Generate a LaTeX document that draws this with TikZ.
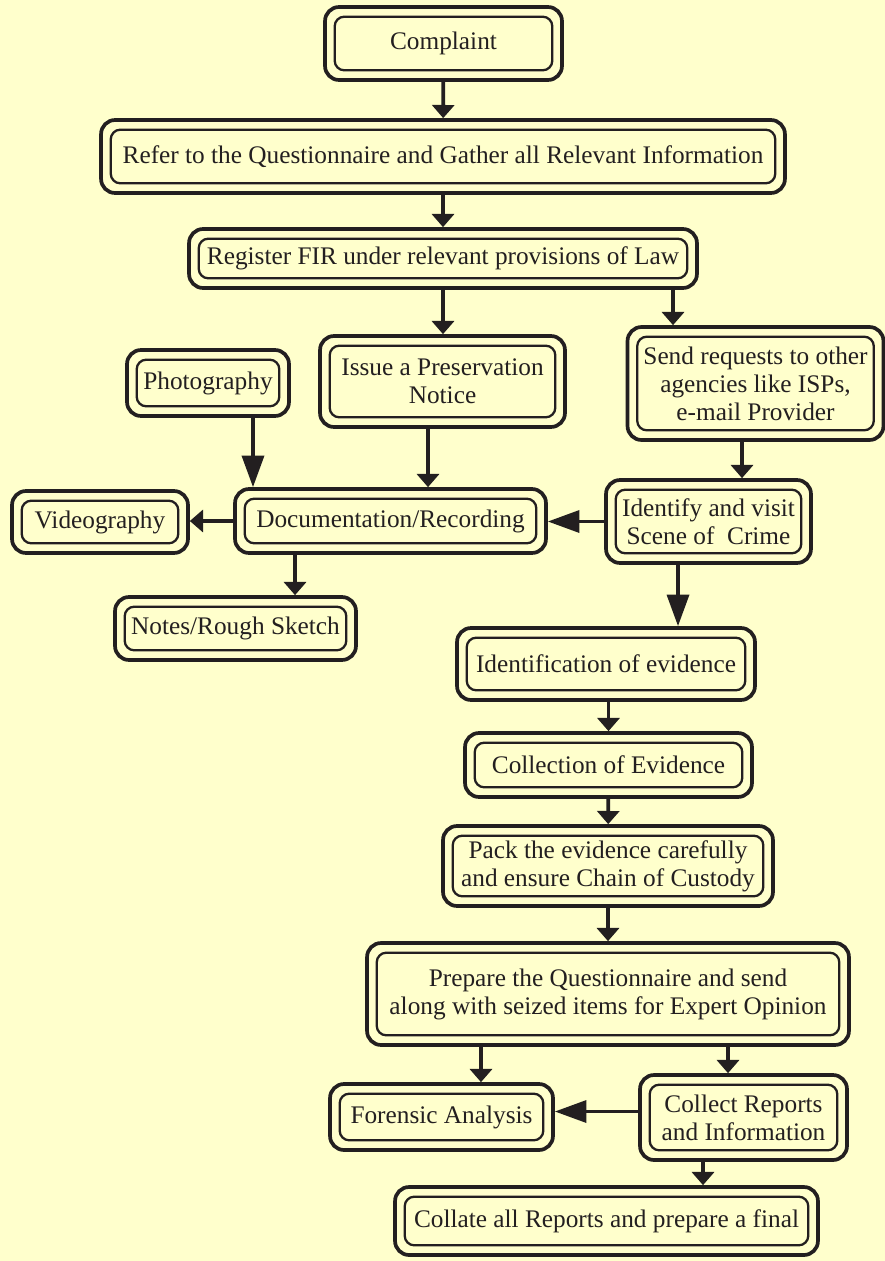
\documentclass[tikz,border=0pt]{standalone}
\usepackage{fontspec}
\setmainfont{Liberation Serif}
\usepackage{tikz}
\usetikzlibrary{arrows.meta,positioning}
\usepackage{xcolor}
\definecolor{cfyellow}{RGB}{255,255,204}
\definecolor{cfdark}{RGB}{35,31,32}
\tikzstyle{arrow} = [line width=2.1pt,-{Triangle[width=12.5pt,length=7.5pt]},color=cfdark]
\tikzstyle{bigarrow} = [line width=2.1pt,-{Triangle[width=12.5pt,length=18pt]},color=cfdark]
\tikzstyle{stage} = [rectangle, rounded corners=8pt, draw=cfdark, fill=cfyellow, line width=2.1pt, inner sep=0pt, align=center, text=cfdark,
  font=\fontsize{14.4}{16}\selectfont,
  path picture={\draw[line width=1.3pt, rounded corners=5.5pt, cfdark]
    ([shift={(5.5pt,5.5pt)}]path picture bounding box.south west) rectangle
    ([shift={(-5.5pt,-5.5pt)}]path picture bounding box.north east);}]

\begin{document}
\begin{tikzpicture}[x=0.02cm, y=-0.02cm]
\fill[cfyellow] (0,0) rectangle (885,1261);
\useasboundingbox (0,0) rectangle (885,1261);

% Main line
\node (complaint) [stage, minimum width=4.74cm, minimum height=1.46cm] at (443.5,43.5) {Complaint};
\node (refer) [stage, minimum width=13.68cm, minimum height=1.46cm] at (443,156.5) {Refer to the Questionnaire and Gather all Relevant Information};
\node (register) [stage, minimum width=10.16cm, minimum height=1.18cm] at (443,258.5) {Register FIR under relevant provisions of Law};

% Branches
\node (photo) [stage, minimum width=3.24cm, minimum height=1.32cm] at (208,383) {Photography};
\node (issue) [stage, minimum width=4.9cm, minimum height=1.82cm] at (442.5,381.5) {Issue a Preservation\\Notice};
\node (send) [stage, minimum width=5.12cm, minimum height=2.26cm] at (755.5,383.5) {Send requests to other\\agencies like ISPs,\\e-mail Provider};
\node (video) [stage, minimum width=3.52cm, minimum height=1.24cm] at (100,522) {Videography};
\node (docu) [stage, minimum width=6.22cm, minimum height=1.28cm] at (390.5,521) {Documentation/Recording};
\node (identify) [stage, minimum width=4.1cm, minimum height=1.66cm] at (708.5,521.5) {Identify and visit\\Scene of~~Crime};
\node (notes) [stage, minimum width=4.82cm, minimum height=1.26cm] at (235.5,628.5) {Notes/Rough Sketch};

% Evidence chain
\node (ident) [stage, minimum width=5.96cm, minimum height=1.44cm] at (606,664) {Identification of evidence};
\node (collection) [stage, minimum width=5.74cm, minimum height=1.28cm] at (608.5,765) {Collection of Evidence};
\node (pack) [stage, minimum width=6.6cm, minimum height=1.6cm] at (608,866) {Pack the evidence carefully\\and ensure Chain of Custody};
\node (prepare) [stage, minimum width=9.64cm, minimum height=2.04cm] at (608,994) {Prepare the Questionnaire and send\\along with seized items for Expert Opinion};
\node (forensic) [stage, minimum width=4.46cm, minimum height=1.32cm] at (441.5,1117) {Forensic Analysis};
\node (collect) [stage, minimum width=4.14cm, minimum height=1.7cm] at (743.5,1117.5) {Collect Reports\\and Information};
\node (collate) [stage, minimum width=8.46cm, minimum height=1.36cm] at (606.5,1221) {Collate all Reports and prepare a final};

% Connectors
\draw[arrow] (complaint) -- (refer);
\draw[arrow] (refer) -- (register);
\draw[arrow] (register.south) -- (register.south |- issue.north);
\draw[arrow] ([xshift=-1.65cm]send.north |- register.south) -- ([xshift=-1.65cm]send.north);
\draw[bigarrow] ([xshift=0.9cm]photo.south) -- ([xshift=0.9cm]photo.south |- docu.north);
\draw[arrow] ([xshift=-0.29cm]issue.south) -- ([xshift=-0.29cm]issue.south |- docu.north);
\draw[arrow] ([xshift=-0.27cm]send.south) -- ([xshift=-0.27cm]send.south |- identify.north);
\draw[bigarrow] (identify.west) -- (identify.west -| docu.east);
\draw[arrow] (docu.west) -- (docu.west -| video.east);
\draw[arrow] ([xshift=-1.91cm]docu.south) -- ([xshift=-1.91cm]docu.south |- notes.north);
\draw[bigarrow] ([xshift=-0.61cm]identify.south) -- ([xshift=-0.61cm]identify.south |- ident.north);
\draw[arrow] (collection.north |- ident.south) -- (collection.north);
\draw[arrow] (collection) -- (pack);
\draw[arrow] (pack) -- (prepare);
\draw[arrow] ([xshift=0.79cm]forensic.north |- prepare.south) -- ([xshift=0.79cm]forensic.north);
\draw[arrow] ([xshift=-0.31cm]collect.north |- prepare.south) -- ([xshift=-0.31cm]collect.north);
\draw[bigarrow] ([yshift=0.12cm]collect.west) -- ([yshift=0.12cm]collect.west -| forensic.east);
\draw[arrow] ([xshift=-0.81cm]collect.south) -- ([xshift=-0.81cm]collect.south |- collate.north);
\end{tikzpicture}
\end{document}
